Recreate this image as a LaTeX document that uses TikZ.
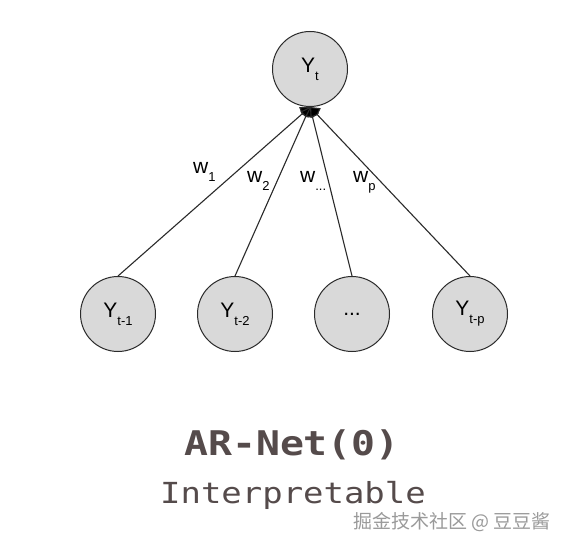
\documentclass[tikz,border=0pt]{standalone}
\usepackage{fontspec}
\setmainfont{Liberation Sans}
\newfontfamily\monofont[FakeStretch=1.17]{DejaVu Sans Mono}
\newfontfamily\cjkfont{Noto Sans CJK SC}
\usetikzlibrary{arrows.meta, positioning}
\usepackage{xcolor}
\definecolor{nodegray}{HTML}{D9D9D9}
\definecolor{edgegray}{HTML}{2B2B2B}
\definecolor{titlebrown}{HTML}{554B4B}
\definecolor{markgray}{HTML}{9A9A9A}
\newcommand{\lagsub}[1]{\raisebox{-0.38em}{\fontsize{13}{13}\selectfont #1}}

\begin{document}
\begin{tikzpicture}[x=1pt, y=-1pt,
    var/.style={circle, draw=edgegray, line width=1pt, fill=nodegray,
                minimum size=75pt, inner sep=0pt, font=\fontsize{21}{24}\selectfont},
    link/.style={draw=edgegray, line width=1.1pt, -{Kite[length=11pt, width=14pt, fill=black]}},
    wlabel/.style={anchor=base west, inner sep=0pt, font=\fontsize{21}{24}\selectfont}]
  \useasboundingbox[fill=white] (0,0) rectangle (568,548);

  % output node and lags
  \node[var] (yt) at (310, 69) {Y\lagsub{t}};
  \coordinate (hub) at (310, 107);
  \node[var] (lag1) at (118, 314) {Y\lagsub{t-1}};
  \node[var] (lag2) at (235, 314) {Y\lagsub{t-2}};
  \node[var] (lagd) at (352, 314) {...};
  \node[var] (lagp) at (470, 314) {Y\lagsub{t-p}};

  % weights
  \draw[link] (lag1.north) -- (hub);
  \draw[link] (lag2.north) -- (hub);
  \draw[link] (lagd.north) -- (hub);
  \draw[link] (lagp.north) -- (hub);
  \node[wlabel] (w1) at (193, 174) {w\lagsub{1}};
  \node[wlabel] (w2) at (247, 183) {w\lagsub{2}};
  \node[wlabel] (wd) at (300, 183) {w\lagsub{...}};
  \node[wlabel] (wp) at (353, 183) {w\lagsub{p}};

  % caption
  \node[anchor=base, inner sep=0pt, text=titlebrown,
        font=\monofont\bfseries\fontsize{34}{38}\selectfont] (title) at (292, 455) {AR-Net(0)};
  \node[anchor=base, inner sep=0pt, text=titlebrown,
        font=\monofont\fontsize{29}{32}\selectfont] (sub) at (293, 503) {Interpretable};
  \node[anchor=base east, inner sep=0pt, text=markgray,
        font=\cjkfont\fontsize{19}{22}\selectfont] (mark) at (551, 528) {掘金技术社区 @ 豆豆酱};
\end{tikzpicture}
\end{document}
